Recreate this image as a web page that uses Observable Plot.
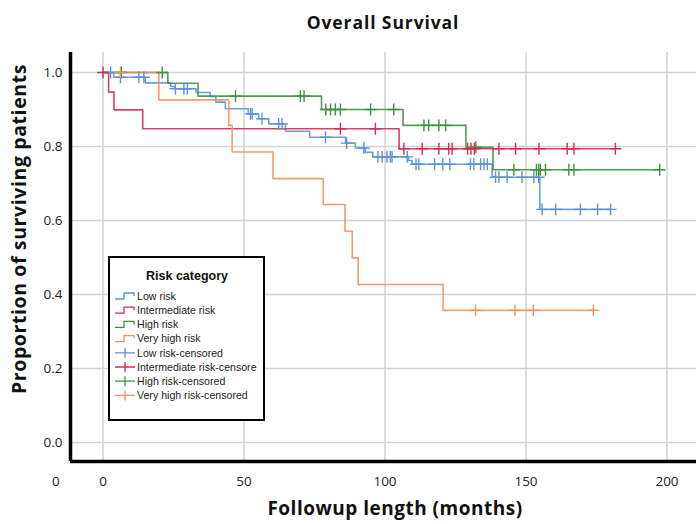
<!DOCTYPE html>
<html><head><meta charset="utf-8">
<script src="https://cdn.jsdelivr.net/npm/d3@7"></script>
<script src="https://cdn.jsdelivr.net/npm/@observablehq/plot@0.6"></script>
<style>
body{margin:0;background:#fff;}
#wrap{position:relative;width:696px;height:524px;font-family:"Open Sans",sans-serif;overflow:hidden;}
#title{position:absolute;left:233px;top:11px;width:300px;text-align:center;font-weight:700;font-size:17.5px;letter-spacing:0.9px;color:#111;line-height:22px;}
#ylab{position:absolute;left:18px;top:229px;transform:translate(-50%,-50%) rotate(-90deg);white-space:nowrap;font-weight:700;font-size:19.5px;letter-spacing:0.6px;color:#111;}
#xlab{position:absolute;left:395px;top:508px;transform:translate(-50%,-50%);white-space:nowrap;font-weight:700;font-size:19px;letter-spacing:0.5px;color:#111;}
#legend{position:absolute;left:108px;top:256px;width:157px;height:165px;box-sizing:border-box;border:2px solid #000;background:#fff;}
#plot{position:absolute;left:0;top:0;}
</style></head>
<body><div id="wrap">
<div id="plot"></div>
<div id="title">Overall Survival</div>
<div id="ylab">Proportion of surviving patients</div>
<div id="xlab">Followup length (months)</div>
<div id="legend"></div>
</div>
<script>
// ---- data ----
const categories = ["Low risk","Intermediate risk","High risk","Very high risk"];
const legendLabels = ["Low risk","Intermediate risk","High risk","Very high risk",
  "Low risk-censored","Intermediate risk-censore","High risk-censored","Very high risk-censored"];
const colors = ["#5b93d6","#d62b52","#3e9141","#f29063"];

const lowTimes = [0,3.8,15,24,25.5,33,38,40,43.4,51.5,55.2,58.8,64.7,73.3,86,89.5,93,95.7,108.3,109.6,138,154.9,180];
const lowSurv  = [1,0.987,0.972,0.962,0.956,0.946,0.935,0.92,0.902,0.888,0.875,0.861,0.841,0.825,0.809,0.796,0.784,0.772,0.762,0.752,0.717,0.63,0.63];
const lowCens  = [2.7,6.2,12.7,14.5,25.7,28.7,29.9,52.3,52.9,56.4,62.3,63.5,78.9,86.4,92.5,97.5,99,100.7,101.9,102.5,107.9,111,112,117.6,120.5,123,130.3,131.5,133.9,135.1,136.3,139.2,140.4,143.3,148.6,152.8,154.5,155.7,160.5,169.3,175.4,180];

const intTimes = [0,2,3.9,14.1,105,181.7];
const intSurv  = [1,0.947,0.899,0.848,0.794,0.794];
const intCens  = [0,84.2,96.6,106.7,113.2,119.1,122.6,123.8,129.3,130.5,131.7,140.4,146.3,154.6,164.6,167,181.7];

const highTimes = [0,23,33.7,77.5,106.4,128.7,138.3,197.4];
const highSurv  = [1,0.971,0.936,0.9,0.857,0.798,0.737,0.737];
const highCens  = [6.5,21,47,70,71.3,79,80.7,82.4,84.2,94.9,103.1,113.8,115.5,119.1,121.5,132.2,145.7,153.7,154.5,155.1,156.9,165.2,167,197.4];

const vhTimes = [0,19.8,44.6,45.8,60.3,78.1,85.8,88.4,90.5,120.6,173.9];
const vhSurv  = [1,0.926,0.857,0.785,0.713,0.643,0.571,0.499,0.427,0.357,0.357];
const vhCens  = [6.2,132.1,146.1,152.6,173.9];

const xTicks = [0,50,100,150,200];
const yTicks = [0,0.2,0.4,0.6,0.8,1.0];
const strayLabel = "0";

// ---- build tables ----
const series = [
  {name:categories[0], t:lowTimes, s:lowSurv, c:lowCens},
  {name:categories[1], t:intTimes, s:intSurv, c:intCens},
  {name:categories[2], t:highTimes, s:highSurv, c:highCens},
  {name:categories[3], t:vhTimes, s:vhSurv, c:vhCens}
];
function survAt(sr, t){ let v = sr.s[0]; for(let i=0;i<sr.t.length;i++){ if(sr.t[i] <= t) v = sr.s[i]; } return v; }
const curveRows = [], censRows = [];
series.forEach(sr => {
  sr.t.forEach((t,i) => curveRows.push({risk:sr.name, t, s:sr.s[i]}));
  sr.c.forEach(t => censRows.push({risk:sr.name, t, s:survAt(sr,t)}));
});
const order = [0,2,1,3];

const X0 = -11.52, X1 = 210.46, Y0 = -0.0514, Y1 = 1.054;
const marks = [
  Plot.ruleX(xTicks,{stroke:"#d2d2d2", strokeWidth:1.5}),
  Plot.ruleY(yTicks,{stroke:"#d2d2d2", strokeWidth:1.5}),
  Plot.axisX({ticks:xTicks, tickSize:0, tickPadding:15, label:null, tickFormat:d=>String(d), fill:"#222", fontSize:13.5}),
  Plot.axisY({ticks:yTicks, tickSize:0, tickPadding:8, label:null, tickFormat:d3.format(".1f"), fill:"#222", fontSize:13.5}),
  Plot.text([strayLabel],{x:-16.7, y:Y0, dy:20, text:d=>d, fill:"#222", fontSize:13.5})
];
order.forEach(i => {
  const nm = categories[i];
  marks.push(Plot.line(curveRows.filter(d=>d.risk===nm),{x:"t", y:"s", curve:"step-after", stroke:colors[i], strokeWidth:1.6, strokeOpacity:0.9}));
});
order.forEach(i => {
  const nm = categories[i];
  marks.push(Plot.dot(censRows.filter(d=>d.risk===nm),{x:"t", y:"s", symbol:"plus", r:3.9, stroke:colors[i], strokeWidth:1.4}));
});
marks.push(Plot.ruleX([X0],{stroke:"#000", strokeWidth:3.5}));
marks.push(Plot.ruleY([Y0],{stroke:"#000", strokeWidth:3.5}));

const chart = Plot.plot({
  width:696, height:524,
  marginLeft:70, marginRight:0, marginTop:52, marginBottom:63,
  style:{fontFamily:"'Open Sans', sans-serif", fontSize:"13.5px", background:"transparent"},
  x:{domain:[X0,X1]}, y:{domain:[Y0,Y1]},
  marks
});
document.getElementById("plot").appendChild(chart);

// ---- legend ----
const lg = d3.select("#legend").append("svg").attr("width",153).attr("height",161)
  .style("font-family","'Liberation Sans', Arial, sans-serif");
lg.append("text").attr("x",77).attr("y",22).attr("text-anchor","middle")
  .attr("font-weight","700").attr("font-size","12.5px").attr("fill","#111").text("Risk category");
legendLabels.forEach((lab,k) => {
  const y = 38 + k*14.2;
  const col = colors[k%4];
  const g = lg.append("g");
  if(k<4){
    g.append("path").attr("d",`M5,${y+3}H14V${y-3}H24V${y}`).attr("fill","none").attr("stroke",col).attr("stroke-width",1.3);
  } else {
    g.append("path").attr("d",`M5,${y}H25M15,${y-5}V${y+5}`).attr("fill","none").attr("stroke",col).attr("stroke-width",1.3);
  }
  g.append("text").attr("x",27).attr("y",y+3.8).attr("font-size","10.6px").attr("fill","#222").text(lab);
});
</script></body></html>
